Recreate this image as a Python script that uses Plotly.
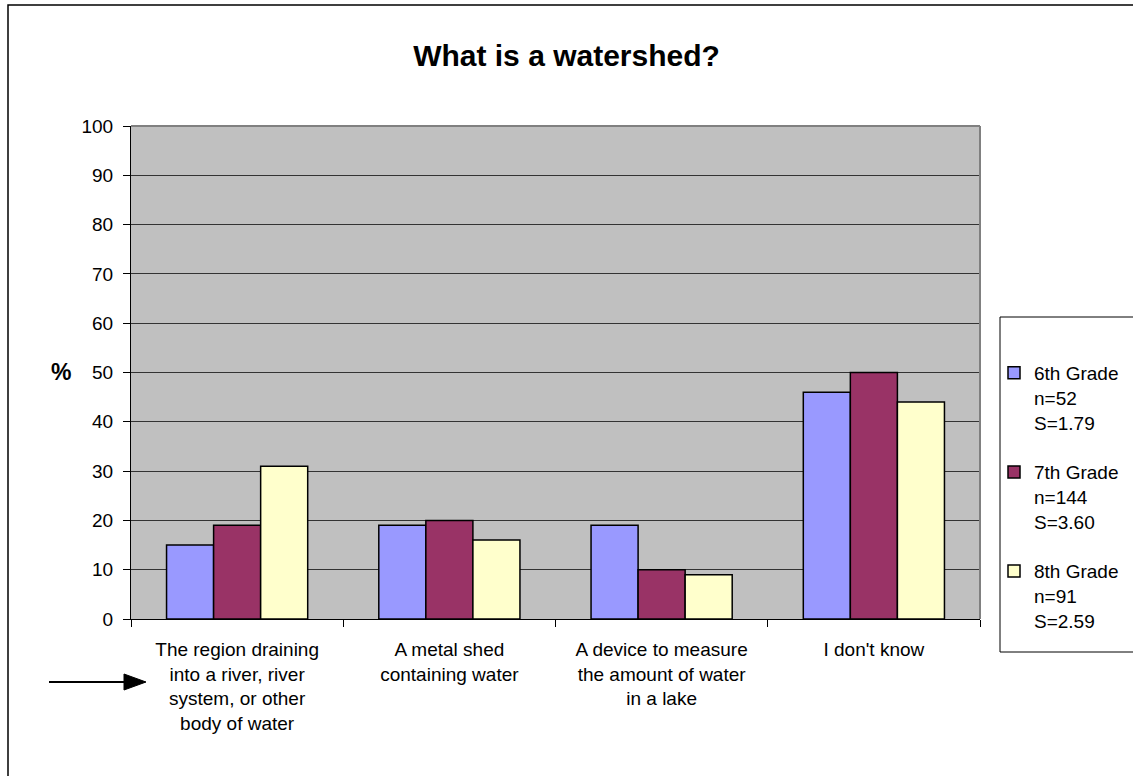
import plotly.graph_objects as go

categories = [
    "The region draining<br>into a river, river<br>system, or other<br>body of water",
    "A metal shed<br>containing water",
    "A device to measure<br>the amount of water<br>in a lake",
    "I don't know",
]
grade6 = [15, 19, 19, 46]
grade7 = [19, 20, 10, 50]
grade8 = [31, 16, 9, 44]
series_names = [
    "6th Grade<br>n=52<br>S=1.79",
    "7th Grade<br>n=144<br>S=3.60",
    "8th Grade<br>n=91<br>S=2.59",
]
series_colors = ["#9999FF", "#993366", "#FFFFCC"]
y_ticks = list(range(0, 101, 10))

W, H = 1133, 776
PLOT_L, PLOT_R, PLOT_T, PLOT_B = 131, 980, 126, 619
FONT = "Arial, Liberation Sans, sans-serif"
TXT = 19


def px(x):
    return (x - PLOT_L) / (PLOT_R - PLOT_L)


def py(y):
    return (PLOT_B - y) / (PLOT_B - PLOT_T)


fig = go.Figure()
for i, (name, vals, col) in enumerate(zip(series_names, [grade6, grade7, grade8], series_colors)):
    fig.add_trace(go.Bar(
        x=categories,
        y=vals,
        name=name,
        legendgroup=f"g{i}",
        marker=dict(color=col, line=dict(color="black", width=1.5)),
        hoverinfo="y+name",
    ))

shapes = [
    # outer chart border
    dict(type="rect", xref="paper", yref="paper",
         x0=px(8), x1=px(1145), y0=py(5), y1=py(790),
         line=dict(color="black", width=1.5), fillcolor="rgba(0,0,0,0)"),
    # legend box
    dict(type="rect", xref="paper", yref="paper",
         x0=px(1000), x1=px(1145), y0=py(317), y1=py(652),
         line=dict(color="black", width=1), fillcolor="white"),
    # plot area top / right edges
    dict(type="line", xref="paper", yref="paper", x0=0, x1=1, y0=1, y1=1,
         line=dict(color="#808080", width=2)),
    dict(type="line", xref="paper", yref="paper", x0=1, x1=1, y0=0, y1=1,
         line=dict(color="#808080", width=2)),
    # arrow pointing at the right answer
    dict(type="line", xref="paper", yref="paper", x0=px(49), x1=px(128), y0=py(682), y1=py(682),
         line=dict(color="black", width=2)),
    dict(type="path", xref="paper", yref="paper",
         path=f"M {px(124)} {py(674)} L {px(146)} {py(682)} L {px(124)} {py(690)} Z",
         fillcolor="black", line=dict(color="black", width=1)),
]

fig.update_layout(
    width=W, height=H,
    margin=dict(l=PLOT_L, r=W - PLOT_R, t=PLOT_T, b=H - PLOT_B, autoexpand=False),
    paper_bgcolor="white",
    plot_bgcolor="#C0C0C0",
    font=dict(family=FONT, size=TXT, color="black"),
    title=dict(text="<b>What is a watershed?</b>", x=0.5, xanchor="center",
               y=1 - 55 / H, yanchor="middle", font=dict(size=30, family=FONT)),
    barmode="group",
    bargap=0.335,
    bargroupgap=0,
    showlegend=True,
    legend=dict(x=px(994), xanchor="left", y=py(354), yanchor="top",
                bgcolor="rgba(0,0,0,0)", borderwidth=0, valign="top",
                tracegroupgap=22, font=dict(size=TXT, family=FONT)),
    shapes=shapes,
    annotations=[dict(text="<b>%</b>", xref="paper", yref="paper", x=px(49), y=py(372),
                      showarrow=False, font=dict(size=23, family=FONT))],
)
fig.update_xaxes(
    type="category", tickson="boundaries", ticks="outside", ticklen=7,
    tickcolor="black", showline=True, linecolor="black", linewidth=1,
    showgrid=False, tickfont=dict(size=TXT), ticklabelstandoff=13,
)
fig.update_yaxes(
    range=[0, 100], tickvals=y_ticks, ticks="outside", ticklen=7, tickcolor="black",
    showline=True, linecolor="black", linewidth=1,
    showgrid=True, gridcolor="#333333", gridwidth=1,
    zeroline=False, tickfont=dict(size=TXT), ticklabelstandoff=6,
)

# drop the default 8px page margin so the figure fills the window
fig.write_html("out.html", config={"displayModeBar": False},
               post_script="document.body.style.margin='0';")
